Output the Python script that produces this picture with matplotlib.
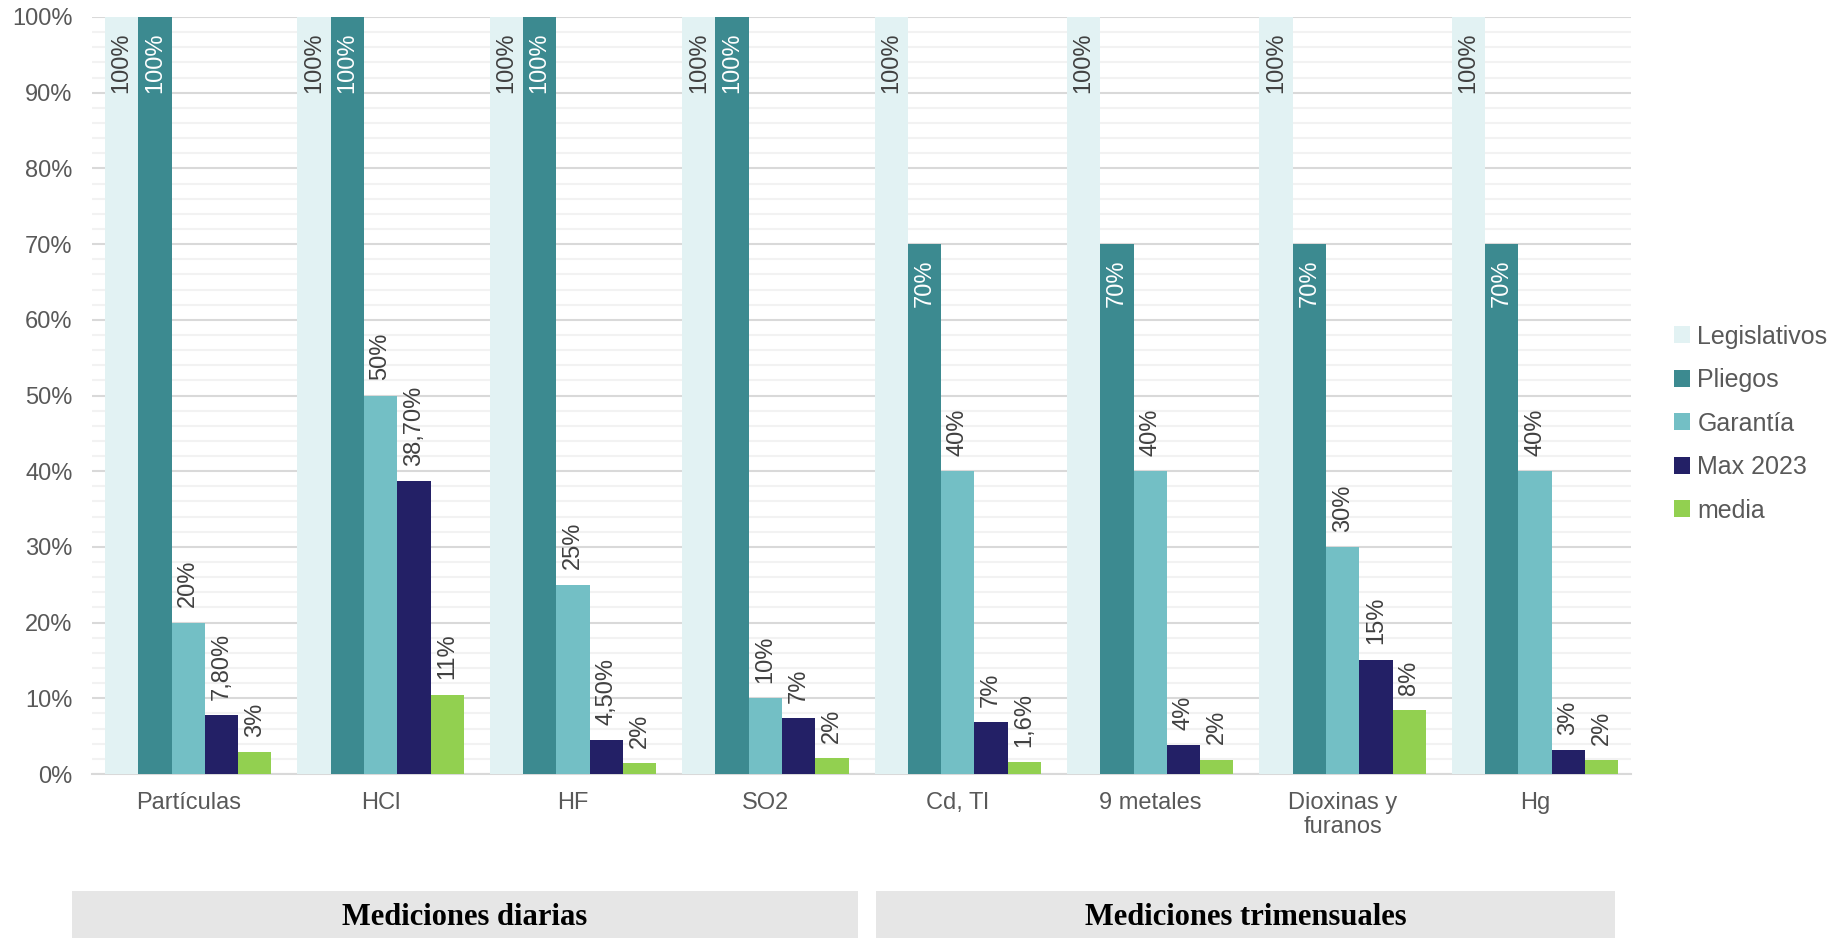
import numpy as np
import matplotlib
matplotlib.use("Agg")
import matplotlib.pyplot as plt
from matplotlib.patches import Rectangle

plt.rcParams['font.family'] = ['Liberation Sans', 'DejaVu Sans']

# data
categorias = ["Partículas", "HCl", "HF", "SO2", "Cd, Tl", "9 metales",
              "Dioxinas y\nfuranos", "Hg"]
series = ["Legislativos", "Pliegos", "Garantía", "Max 2023", "media"]

legislativos = [1.0, 1.0, 1.0, 1.0, 1.0, 1.0, 1.0, 1.0]
pliegos = [1.0, 1.0, 1.0, 1.0, 0.70, 0.70, 0.70, 0.70]
garantia = [0.20, 0.50, 0.25, 0.10, 0.40, 0.40, 0.30, 0.40]
max2023 = [0.078, 0.387, 0.045, 0.074, 0.069, 0.038, 0.151, 0.032]
media = [0.029, 0.105, 0.014, 0.021, 0.016, 0.019, 0.084, 0.018]

leg_labels = ["100%", "100%", "100%", "100%", "100%", "100%", "100%", "100%"]
pli_labels = ["100%", "100%", "100%", "100%", "70%", "70%", "70%", "70%"]
gar_labels = ["20%", "50%", "25%", "10%", "40%", "40%", "30%", "40%"]
max_labels = ["7,80%", "38,70%", "4,50%", "7%", "7%", "4%", "15%", "3%"]
med_labels = ["3%", "11%", "2%", "2%", "1,6%", "2%", "8%", "2%"]

grupos = ["Mediciones diarias", "Mediciones trimensuales"]

colores = ["#e2f2f3", "#3c8a90", "#73bfc5", "#232066", "#92d050"]
gris = "#595959"

valores = [legislativos, pliegos, garantia, max2023, media]
etiquetas = [leg_labels, pli_labels, gar_labels, max_labels, med_labels]
# 'in' = label inside the bar end, 'out' = above the bar
posicion = ["in", "in", "out", "out", "out"]
col_texto = ["#404040", "white", "#404040", "#404040", "#404040"]

fig = plt.figure(figsize=(18.35, 9.38), dpi=100)
ax = fig.add_axes([0.0501, 0.1748, 0.889 - 0.0501, 0.9819 - 0.1748])

x = np.arange(len(categorias))
w = 0.173
handles = []
for i, (vals, labs) in enumerate(zip(valores, etiquetas)):
    pos = x + (i - 2) * w
    b = ax.bar(pos, vals, w, color=colores[i], label=series[i], zorder=2)
    handles.append(b)
    for xp, v, t in zip(pos, vals, labs):
        if posicion[i] == "in":
            ax.annotate(t, (xp, v), xytext=(0, -11), textcoords="offset points",
                        rotation=90, ha="center", va="top", fontsize=17,
                        color=col_texto[i], zorder=3)
        else:
            ax.annotate(t, (xp, v), xytext=(0, 11), textcoords="offset points",
                        rotation=90, ha="center", va="bottom", fontsize=17,
                        color=col_texto[i], zorder=3)

ax.set_xlim(-0.5, len(categorias) - 0.5)
ax.set_ylim(0, 1.0)
ax.set_yticks(np.arange(0, 1.01, 0.1))
ax.set_yticks(np.arange(0, 1.01, 0.02), minor=True)
ax.set_yticklabels([f"{int(round(t * 100))}%" for t in np.arange(0, 1.01, 0.1)])
ax.set_xticks(x)
ax.set_xticklabels(categorias, linespacing=1.1)
ax.tick_params(axis="both", which="both", length=0, labelsize=17, colors=gris)
ax.tick_params(axis="y", pad=14)
ax.tick_params(axis="x", pad=13)
ax.grid(axis="y", which="major", color="#d9d9d9", lw=1.5, zorder=0)
ax.grid(axis="y", which="minor", color="#f2f2f2", lw=1.5, zorder=0)
ax.set_axisbelow(True)
for s in ["top", "left", "right"]:
    ax.spines[s].set_visible(False)
ax.spines["bottom"].set_color("#d9d9d9")
ax.spines["bottom"].set_linewidth(1.5)
ax.spines["bottom"].set_zorder(1)

fig.legend(handles=handles, loc="center left", bbox_to_anchor=(0.912, 0.5485),
           frameon=False, fontsize=18, handlelength=0.65, handleheight=0.65,
           handletextpad=0.3, labelspacing=0.78, borderpad=0, borderaxespad=0,
           labelcolor=gris)

# group boxes below the categories
cajas = [(72, 858), (876, 1615)]
for (x0, x1), nombre in zip(cajas, grupos):
    fig.add_artist(Rectangle((x0 / 1835, 0), (x1 - x0) / 1835, 47 / 938,
                             transform=fig.transFigure, color="#e6e6e6", lw=0))
    fig.text((x0 + x1) / 2 / 1835, 21 / 938, nombre, ha="center", va="center",
             fontsize=22, fontweight="bold", family="Liberation Serif",
             color="black")

fig.savefig("out.png", dpi=100)
